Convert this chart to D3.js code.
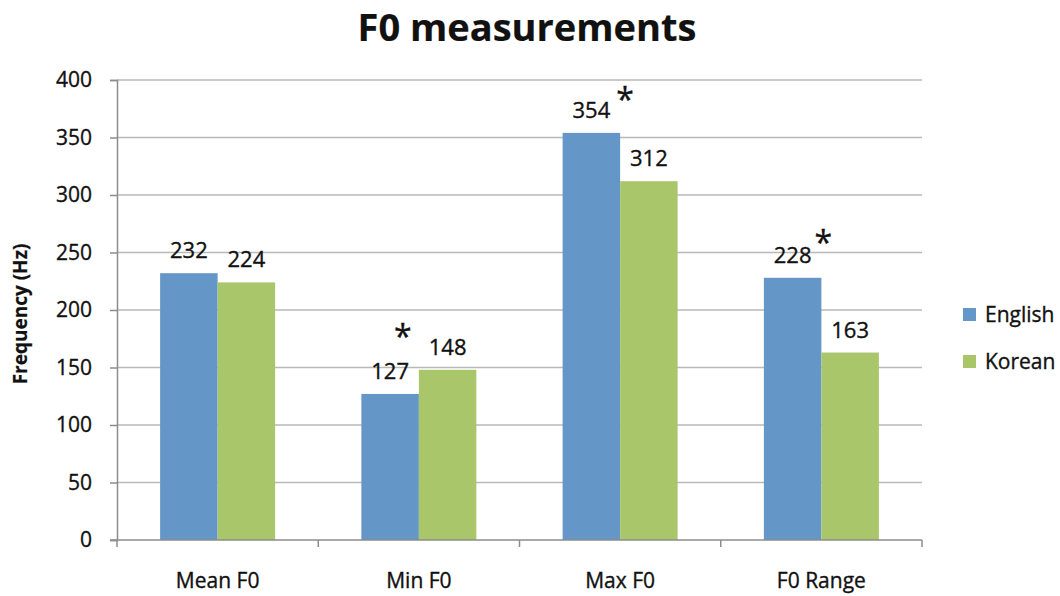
<!DOCTYPE html>
<html>
<head>
<meta charset="utf-8">
<script src="https://cdn.jsdelivr.net/npm/d3@7"></script>
<style>
  html, body { margin: 0; padding: 0; background: #fff; }
  svg { display: block; }
  text { font-family: "Open Sans", "Noto Sans", sans-serif; fill: #111; stroke: #111; stroke-width: 0.35px; }
</style>
</head>
<body>
<svg id="chart" width="1060" height="596"></svg>
<script>
// F0 measurements (Hz), English vs Korean speakers
const categories = ["Mean F0", "Min F0", "Max F0", "F0 Range"];
const seriesNames = ["English", "Korean"];
const english = [232, 127, 354, 228];
const korean = [224, 148, 312, 163];
const yTicks = [0, 50, 100, 150, 200, 250, 300, 350, 400];
// categories with a significant difference, marked by an asterisk
const significant = ["Min F0", "Max F0", "F0 Range"];

const colors = { English: "#6596C8", Korean: "#A9C66B" };
const valuesBySeries = { English: english, Korean: korean };

const svg = d3.select("#chart");
const plot = { left: 117, right: 922, top: 80, bottom: 540 };

const x = d3.scaleBand().domain(categories).range([plot.left, plot.right]).padding(0);
const xInner = d3.scaleBand().domain(seriesNames).range([0, x.bandwidth()])
  .paddingInner(0).paddingOuter(0.75);
const y = d3.scaleLinear().domain([0, 400]).range([plot.bottom, plot.top]);

// Title
svg.append("text")
  .attr("x", 527).attr("y", 41)
  .attr("text-anchor", "middle")
  .style("font-size", "38px").style("font-weight", "bold").style("stroke-width", "0.2px")
  .text("F0 measurements");

// Gridlines
svg.append("g")
  .selectAll("line")
  .data(yTicks.filter(d => d > 0))
  .join("line")
  .attr("x1", plot.left).attr("x2", plot.right)
  .attr("y1", d => y(d)).attr("y2", d => y(d))
  .attr("stroke", "#b9b9b9").attr("stroke-width", 1.5);

// Y axis
const yAxis = svg.append("g")
  .attr("transform", `translate(${plot.left},0)`)
  .call(d3.axisLeft(y).tickValues(yTicks).tickSize(7).tickPadding(18));
yAxis.select(".domain").attr("stroke", "#8c8c8c").attr("stroke-width", 1.5);
yAxis.selectAll(".tick line").attr("stroke", "#8c8c8c").attr("stroke-width", 1.5);
yAxis.selectAll(".tick text")
  .style("font-size", "21px").style("font-family", "'Open Sans', sans-serif")
  .attr("fill", "#111");

// Y axis title
svg.append("text")
  .attr("transform", `translate(27,${(plot.top + plot.bottom) / 2 + 4}) rotate(-90)`)
  .attr("text-anchor", "middle")
  .style("font-size", "19px").style("font-weight", "bold").style("stroke-width", "0.2px")
  .text("Frequency (Hz)");

// Bars
const groups = svg.append("g")
  .selectAll("g")
  .data(categories)
  .join("g")
  .attr("transform", d => `translate(${x(d)},0)`);

groups.selectAll("rect")
  .data((c, i) => seriesNames.map(s => ({ s, c, v: valuesBySeries[s][i] })))
  .join("rect")
  .attr("x", d => xInner(d.s))
  .attr("width", xInner.bandwidth())
  .attr("y", d => y(d.v))
  .attr("height", d => y(0) - y(d.v))
  .attr("fill", d => colors[d.s]);

// Value labels
groups.selectAll("text.value")
  .data((c, i) => seriesNames.map(s => ({ s, c, v: valuesBySeries[s][i] })))
  .join("text")
  .attr("class", "value")
  .attr("x", d => xInner(d.s) + xInner.bandwidth() / 2)
  .attr("y", d => y(d.v) - 15)
  .attr("text-anchor", "middle")
  .style("font-size", "22px")
  .text(d => d.v);

// X axis (category boundary ticks)
const xAxisG = svg.append("g").attr("transform", `translate(0,${plot.bottom})`);
xAxisG.append("line")
  .attr("x1", plot.left - 7).attr("x2", plot.right)
  .attr("stroke", "#8c8c8c").attr("stroke-width", 1.5);
const bounds = categories.map(c => x(c)).concat([x(categories[categories.length - 1]) + x.bandwidth()]);
xAxisG.selectAll("line.tick")
  .data(bounds)
  .join("line")
  .attr("class", "tick")
  .attr("x1", d => d).attr("x2", d => d)
  .attr("y1", 0).attr("y2", 7)
  .attr("stroke", "#8c8c8c").attr("stroke-width", 1.5);
xAxisG.selectAll("text")
  .data(categories)
  .join("text")
  .attr("x", d => x(d) + x.bandwidth() / 2)
  .attr("y", 48)
  .attr("text-anchor", "middle")
  .style("font-size", "21px")
  .text(d => d);

// Significance asterisks, placed relative to the English bar of each category
const starOffset = {
  "Min F0": { dx: -16, dy: -62 },
  "Max F0": { dx: 5, dy: -38 },
  "F0 Range": { dx: 2, dy: -40 }
};
svg.append("g")
  .selectAll("text")
  .data(significant)
  .join("text")
  .attr("x", c => x(c) + xInner("English") + xInner.bandwidth() + starOffset[c].dx)
  .attr("y", c => y(english[categories.indexOf(c)]) + starOffset[c].dy + 16)
  .attr("text-anchor", "middle")
  .style("font-size", "32px")
  .text("*");

// Legend
const legend = svg.append("g")
  .selectAll("g")
  .data(seriesNames)
  .join("g")
  .attr("transform", (d, i) => `translate(963,${314 + i * 47})`);
legend.append("rect")
  .attr("x", 0).attr("y", -6).attr("width", 13).attr("height", 13)
  .attr("fill", d => colors[d]);
legend.append("text")
  .attr("x", 22).attr("y", 8)
  .style("font-size", "21px")
  .text(d => d);
</script>
</body>
</html>
